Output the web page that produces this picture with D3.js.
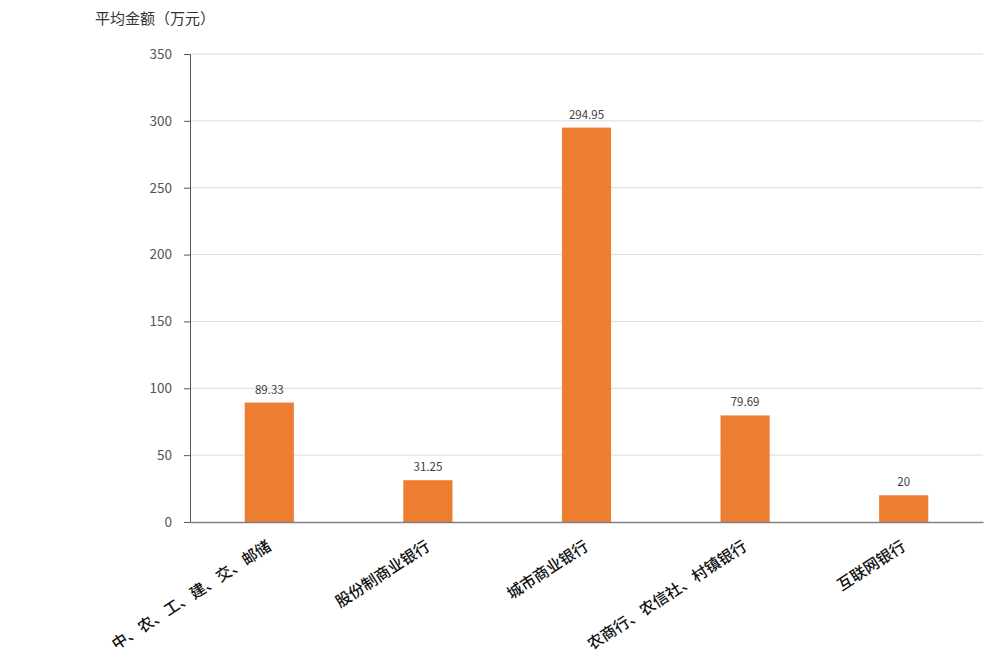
<!DOCTYPE html>
<html><head><meta charset="utf-8">
<script src="https://cdn.jsdelivr.net/npm/d3@7"></script>
<style>body{margin:0;background:#fff}</style>
</head><body>
<svg id="c" width="999" height="658"></svg>
<script>
const categories = ["中、农、工、建、交、邮储","股份制商业银行","城市商业银行","农商行、农信社、村镇银行","互联网银行"];
const values = [89.33, 31.25, 294.95, 79.69, 20];
const valueLabels = ["89.33","31.25","294.95","79.69","20"];
const yTicks = [0,50,100,150,200,250,300,350];
const yTitle = "平均金额（万元）";

const svg = d3.select("#c");
const m = {l:190, r:983, t:54, b:522};
const x = d3.scaleBand().domain(categories).range([m.l, m.r]).paddingInner(0.69).paddingOuter(0.345);
const y = d3.scaleLinear().domain([0,350]).range([m.b, m.t]);
const font = "'Microsoft YaHei','Noto Sans CJK SC','Noto Sans',sans-serif";

// grid
svg.append("g").selectAll("line").data(yTicks.filter(d=>d>0)).join("line")
  .attr("x1", m.l).attr("x2", m.r).attr("y1", d=>y(d)).attr("y2", d=>y(d))
  .attr("stroke", "#dcdcdc").attr("stroke-width", 1);

// bars
svg.append("g").selectAll("rect").data(values).join("rect")
  .attr("x", (d,i)=>x(categories[i])).attr("width", x.bandwidth())
  .attr("y", d=>y(d)).attr("height", d=>y(0)-y(d)).attr("fill", "#ED7D31");

// value labels
svg.append("g").selectAll("text").data(values).join("text")
  .attr("x", (d,i)=>x(categories[i]) + x.bandwidth()/2).attr("y", d=>y(d)-9)
  .attr("text-anchor","middle").attr("font-family", font).attr("font-size", 11.5).attr("fill","#404040")
  .text((d,i)=>valueLabels[i]);

// y axis
const ya = d3.axisLeft(y).tickValues(yTicks).tickSize(6).tickPadding(12);
const gy = svg.append("g").attr("transform", `translate(${m.l},0)`).call(ya);
gy.select(".domain").attr("stroke","#555");
gy.selectAll(".tick line").attr("stroke","#555");
gy.selectAll("text").attr("font-family", font).attr("font-size", 13.5).attr("fill","#555");

// x axis
const xa = d3.axisBottom(x).tickSize(0).tickPadding(0);
const gx = svg.append("g").attr("transform", `translate(0,${m.b})`).call(xa);
gx.select(".domain").attr("stroke","#808080").attr("stroke-width",1.5);
gx.selectAll("text")
  .attr("font-family", font).attr("font-size", 15.5).attr("font-weight", 500).attr("fill","#111")
  .attr("text-anchor","end").attr("dy", null).attr("y", 0)
  .attr("transform", "translate(3,27) rotate(-33)");

// title
svg.append("text").attr("x", 95).attr("y", 24).attr("font-family", font).attr("font-size", 15).attr("fill","#333").text(yTitle);
</script>
</body></html>
